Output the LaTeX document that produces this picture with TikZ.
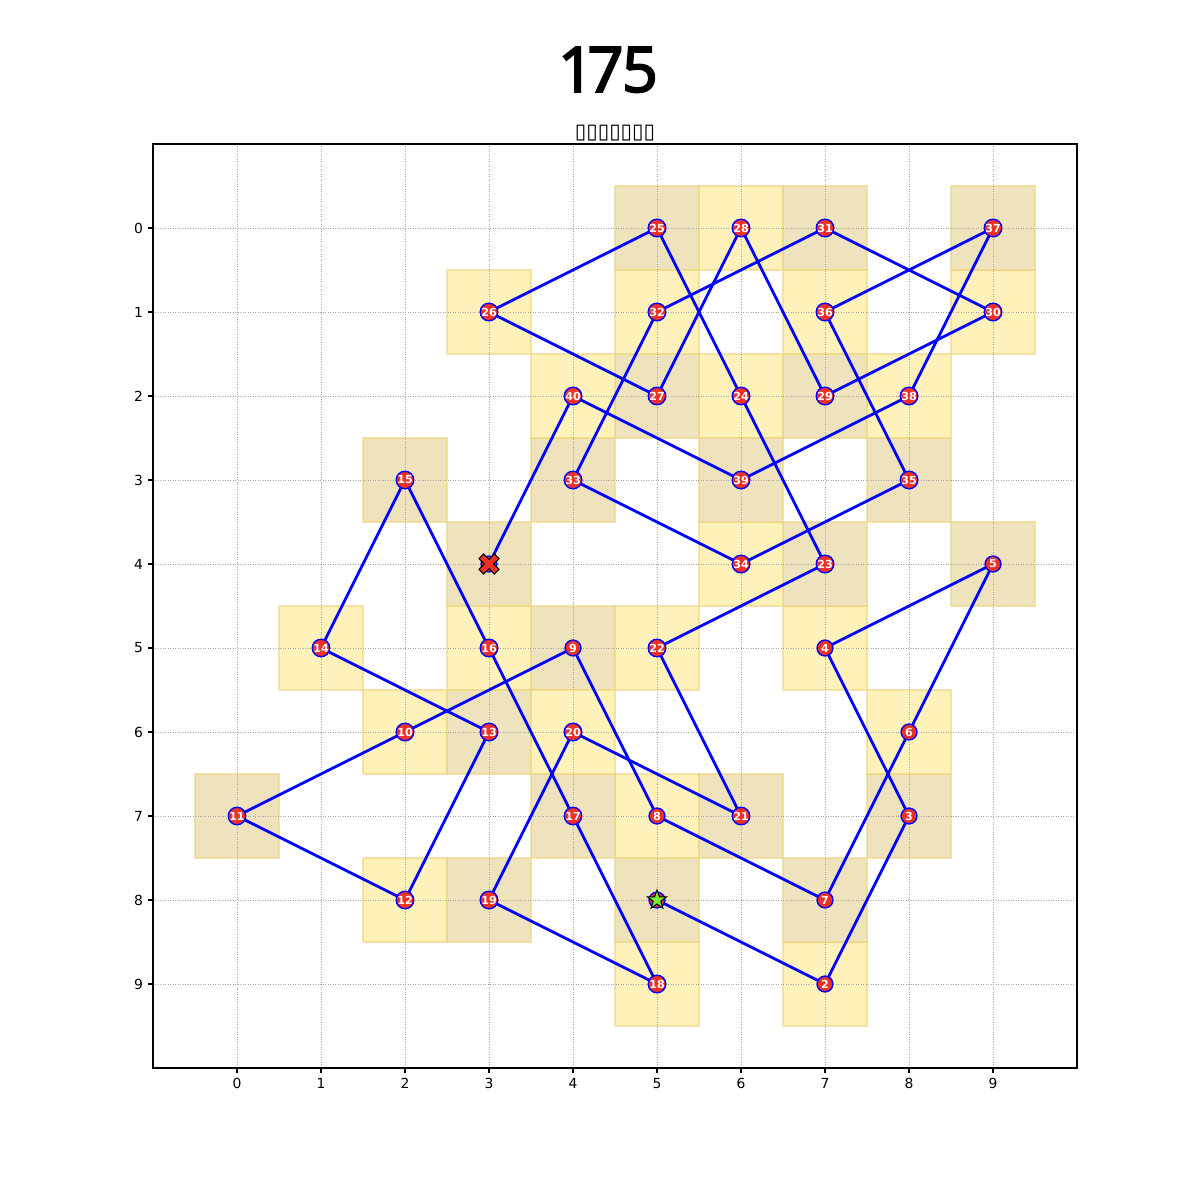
\documentclass[tikz,border=0pt]{standalone}
\usepackage{fontspec}
\setmainfont{DejaVu Sans}
\newfontfamily\headfont[Numbers=Proportional,FakeBold=2.5]{Noto Sans}
\usetikzlibrary{shapes.geometric}
\definecolor{cellgold}{HTML}{FEF2BA}
\definecolor{celltan}{HTML}{EFE3BE}
\definecolor{celledge}{HTML}{EED27A}
\definecolor{dotred}{HTML}{EE3124}
\definecolor{startgreen}{HTML}{77EE33}
\pgfdeclarelayer{cells}
\pgfdeclarelayer{edges}
\pgfsetlayers{cells,edges,main}
\tikzset{%
  cellbox/.style={draw=celledge,draw opacity=0.6,line width=0.8pt},
  gridline/.style={gray!70,line width=0.5pt,dash pattern=on 0.6pt off 1.2pt},
  tourline/.style={blue,line width=2pt,line join=round},
  tourdot/.style={circle,fill=dotred,draw=blue,line width=1pt,minimum size=11.4pt,inner sep=0pt,
    text=white,font=\fontsize{8}{8}\selectfont\bfseries},
  startstar/.style={star,star points=5,star point ratio=2.5,minimum size=14.4pt,inner sep=0pt,
    fill=startgreen,draw=black,line width=0.7pt},
  endcross/.style={fill=dotred,draw=black,line width=0.7pt,line join=miter},
  axistick/.style={black,line width=0.8pt},
  ticklabel/.style={inner sep=0pt,font=\fontsize{10}{10}\selectfont}
}
\newcommand\tourcell[2]{%
  \pgfmathtruncatemacro\cellpar{mod(#1+#2,2)}%
  \ifnum\cellpar=0 \def\cellcol{cellgold}\else \def\cellcol{celltan}\fi
  \begin{pgfonlayer}{cells}
    \filldraw[cellbox,fill=\cellcol] (#1-0.5,#2-0.5) rectangle (#1+0.5,#2+0.5);
  \end{pgfonlayer}}

\begin{document}
\begin{tikzpicture}[x=60.48pt,y=-60.48pt]
\useasboundingbox (-2.8214,-2.7143) rectangle (11.4643,11.5714);

% titles
\node[font=\headfont\fontsize{45.4}{45.4}\selectfont,anchor=base,inner sep=0pt] (figtitle) at (4.4405,-1.619) {175};
\node[font=\fontsize{15}{15}\selectfont,anchor=base,inner sep=0pt] (axtitle) at (4.5,-1.0714) {▯▯▯▯▯▯▯};

% start and end of the tour
\tourcell{5}{8}
\node[tourdot] (sq1) at (5,8) {};
\tourcell{3}{4}
\node[tourdot] (sq41) at (3,4) {};

% visited squares in order
\foreach \n/\cx/\cy in {2/7/9, 3/8/7, 4/7/5, 5/9/4, 6/8/6, 7/7/8, 8/5/7, 9/4/5,
    10/2/6, 11/0/7, 12/2/8, 13/3/6, 14/1/5, 15/2/3, 16/3/5, 17/4/7, 18/5/9,
    19/3/8, 20/4/6, 21/6/7, 22/5/5, 23/7/4, 24/6/2, 25/5/0, 26/3/1, 27/5/2,
    28/6/0, 29/7/2, 30/9/1, 31/7/0, 32/5/1, 33/4/3, 34/6/4, 35/8/3, 36/7/1,
    37/9/0, 38/8/2, 39/6/3, 40/4/2}{
  \tourcell{\cx}{\cy}
  \node[tourdot] (sq\n) at (\cx,\cy) {\n};
}

% grid
\begin{pgfonlayer}{cells}
  \foreach \t in {0,...,9}{
    \draw[gridline] (\t,-1) -- (\t,10);
    \draw[gridline] (-1,\t) -- (10,\t);
  }
\end{pgfonlayer}

% knight moves
\begin{pgfonlayer}{edges}
  \foreach \i [evaluate=\i as \j using int(\i+1)] in {1,...,40}
    \draw[tourline] (sq\i.center) -- (sq\j.center);
\end{pgfonlayer}

% markers
\node[startstar] (startmark) at (sq1.center) {};
\begin{scope}[shift={(sq41.center)},rotate=45]
  \draw[endcross] (7.8pt,2.35pt) -- (2.35pt,2.35pt) -- (2.35pt,7.8pt) -- (-2.35pt,7.8pt)
    -- (-2.35pt,2.35pt) -- (-7.8pt,2.35pt) -- (-7.8pt,-2.35pt) -- (-2.35pt,-2.35pt)
    -- (-2.35pt,-7.8pt) -- (2.35pt,-7.8pt) -- (2.35pt,-2.35pt) -- (7.8pt,-2.35pt) -- cycle;
\end{scope}

% axes
\draw[axistick] (-1,-1) rectangle (10,10);
\foreach \t in {0,...,9}{
  \draw[axistick] (\t,10) -- ++(0,-3.5pt);
  \node[ticklabel,anchor=north,yshift=-7pt] (xt\t) at (\t,10) {\t};
  \draw[axistick] (-1,\t) -- ++(-3.5pt,0);
  \node[ticklabel,anchor=east,xshift=-7pt] (yt\t) at (-1,\t) {\t};
}
\end{tikzpicture}
\end{document}
